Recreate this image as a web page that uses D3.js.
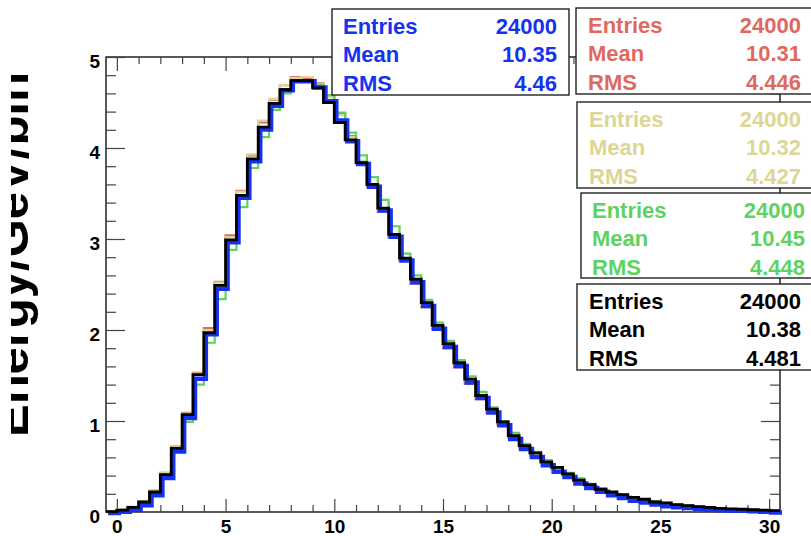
<!DOCTYPE html>
<html>
<head>
<meta charset="utf-8">
<script src="https://cdn.jsdelivr.net/npm/d3@7"></script>
<style>
  body { margin: 0; background: #fff; }
  svg { display: block; font-family: "Liberation Sans", Arial, sans-serif; font-weight: bold; }
</style>
</head>
<body>
<div id="chart"></div>
<script>
// lower edge of every bin (width 0.5)
const binLow = [-0.5, 0, 0.5, 1, 1.5, 2, 2.5, 3, 3.5, 4, 4.5, 5, 5.5, 6, 6.5, 7, 7.5, 8, 8.5, 9, 9.5,
  10, 10.5, 11, 11.5, 12, 12.5, 13, 13.5, 14, 14.5, 15, 15.5, 16, 16.5, 17, 17.5, 18, 18.5, 19, 19.5,
  20, 20.5, 21, 21.5, 22, 22.5, 23, 23.5, 24, 24.5, 25, 25.5, 26, 26.5, 27, 27.5, 28, 28.5, 29, 29.5, 30]
const binWidth = 0.5

const redVals = [0.01, 0.03, 0.05, 0.11, 0.23, 0.43, 0.72, 1.09, 1.53, 2.02, 2.53, 3.04, 3.53, 3.92, 4.28, 4.53, 4.69, 4.78, 4.77, 4.71, 4.58,
  4.38, 4.13, 3.85, 3.58, 3.30, 3.02, 2.76, 2.51, 2.25, 2.01, 1.80, 1.59, 1.41, 1.24, 1.09, 0.96, 0.82, 0.71, 0.62, 0.54,
  0.47, 0.40, 0.34, 0.29, 0.24, 0.21, 0.18, 0.15, 0.13, 0.11, 0.09, 0.08, 0.07, 0.06, 0.05, 0.04, 0.03, 0.03, 0.02, 0.02, 0.01]
const khakiVals = [0.01, 0.03, 0.06, 0.12, 0.24, 0.43, 0.71, 1.08, 1.52, 2.00, 2.52, 3.02, 3.52, 3.93, 4.30, 4.54, 4.69, 4.77, 4.78, 4.70, 4.56,
  4.36, 4.12, 3.86, 3.60, 3.32, 3.04, 2.77, 2.53, 2.27, 2.03, 1.82, 1.61, 1.43, 1.26, 1.11, 0.97, 0.83, 0.72, 0.63, 0.54,
  0.47, 0.40, 0.34, 0.29, 0.25, 0.21, 0.18, 0.15, 0.13, 0.11, 0.09, 0.08, 0.07, 0.06, 0.05, 0.04, 0.03, 0.03, 0.02, 0.02, 0.01]
const greenVals = [0.01, 0.02, 0.05, 0.11, 0.22, 0.41, 0.67, 0.99, 1.40, 1.86, 2.34, 2.88, 3.35, 3.78, 4.12, 4.42, 4.60, 4.73, 4.74, 4.69, 4.58,
  4.39, 4.17, 3.92, 3.68, 3.43, 3.14, 2.84, 2.60, 2.33, 2.08, 1.88, 1.67, 1.49, 1.32, 1.15, 1.00, 0.87, 0.75, 0.66, 0.57,
  0.49, 0.43, 0.37, 0.31, 0.26, 0.22, 0.19, 0.16, 0.14, 0.12, 0.10, 0.08, 0.07, 0.06, 0.05, 0.04, 0.035, 0.03, 0.025, 0.02, 0.015]
const blueVals = [0.005, 0.02, 0.04, 0.09, 0.20, 0.39, 0.68, 1.05, 1.48, 1.97, 2.47, 2.98, 3.47, 3.87, 4.22, 4.48, 4.65, 4.75, 4.75, 4.68, 4.53,
  4.32, 4.09, 3.84, 3.59, 3.33, 3.04, 2.78, 2.54, 2.28, 2.03, 1.83, 1.62, 1.44, 1.27, 1.11, 0.97, 0.82, 0.71, 0.62, 0.53,
  0.46, 0.40, 0.33, 0.28, 0.24, 0.20, 0.17, 0.14, 0.12, 0.10, 0.08, 0.07, 0.06, 0.05, 0.04, 0.035, 0.03, 0.03, 0.025, 0.02, 0.01]
const blackVals = [0.005, 0.02, 0.05, 0.11, 0.22, 0.41, 0.70, 1.07, 1.51, 1.97, 2.49, 2.99, 3.48, 3.88, 4.23, 4.49, 4.64, 4.74, 4.74, 4.66, 4.50,
  4.28, 4.09, 3.84, 3.60, 3.34, 3.05, 2.79, 2.56, 2.30, 2.05, 1.85, 1.64, 1.46, 1.28, 1.13, 0.99, 0.84, 0.73, 0.65, 0.55,
  0.49, 0.42, 0.35, 0.30, 0.25, 0.22, 0.19, 0.16, 0.14, 0.11, 0.10, 0.08, 0.07, 0.06, 0.05, 0.04, 0.035, 0.03, 0.025, 0.02, 0.015]

const statNames = ["Entries", "Mean", "RMS"]
const entries = [24000, 24000, 24000, 24000, 24000]
const means = ["10.35", "10.31", "10.32", "10.45", "10.38"]
const rmss = ["4.46", "4.446", "4.427", "4.448", "4.481"]

const xTicks = [0, 5, 10, 15, 20, 25, 30]
const yTicks = [0, 1, 2, 3, 4, 5]
const yTitle = "Energy/GeV/bin"

var width = 811, height = 536
var frame = {left: 106, right: 780, top: 57, bottom: 512}

const svg = d3.select("#chart").append("svg")
    .attr("width", width)
    .attr("height", height)

const x = d3.scaleLinear().domain([-0.5, 30.5]).range([frame.left, frame.right])
const y = d3.scaleLinear().domain([0, 5]).range([frame.bottom, frame.top])

// minor tick positions
var xMinor = d3.range(0, 31, 1).filter(d => d % 5 != 0)
var yMinor = d3.range(0, 5.01, 0.2).map(d => +d.toFixed(1)).filter(d => d % 1 != 0)

function tickStyle(g) {
    g.select(".domain").remove()
    g.selectAll(".tick line").attr("stroke", "#444").attr("stroke-width", 1.2)
    g.selectAll("text").attr("fill", "#000").style("font-size", "19px").style("font-weight", "bold")
        .attr("font-family", "Liberation Sans, Arial, sans-serif")
}

// frame
svg.append("rect")
    .attr("x", frame.left).attr("y", frame.top)
    .attr("width", frame.right - frame.left).attr("height", frame.bottom - frame.top)
    .attr("fill", "none").attr("stroke", "#000").attr("stroke-width", 1.3)

// bottom axis
svg.append("g").attr("transform", "translate(0," + frame.bottom + ")")
    .call(d3.axisBottom(x).tickValues(xTicks).tickSize(-13).tickPadding(7.5).tickFormat(d3.format("d")))
    .call(tickStyle)
svg.append("g").attr("transform", "translate(0," + frame.bottom + ")")
    .call(d3.axisBottom(x).tickValues(xMinor).tickSize(-7).tickFormat(""))
    .call(tickStyle)
// top axis
svg.append("g").attr("transform", "translate(0," + frame.top + ")")
    .call(d3.axisTop(x).tickValues(xTicks).tickSize(-14).tickFormat(""))
    .call(tickStyle)
svg.append("g").attr("transform", "translate(0," + frame.top + ")")
    .call(d3.axisTop(x).tickValues(xMinor).tickSize(-7).tickFormat(""))
    .call(tickStyle)
// left axis
svg.append("g").attr("transform", "translate(" + frame.left + ",0)")
    .call(d3.axisLeft(y).tickValues(yTicks).tickSize(-19).tickPadding(6).tickFormat(d3.format("d")))
    .call(tickStyle)
    .selectAll("text").attr("dy", "0.55em")
svg.append("g").attr("transform", "translate(" + frame.left + ",0)")
    .call(d3.axisLeft(y).tickValues(yMinor).tickSize(-10).tickFormat(""))
    .call(tickStyle)
// right axis
svg.append("g").attr("transform", "translate(" + frame.right + ",0)")
    .call(d3.axisRight(y).tickValues(yTicks).tickSize(-19).tickFormat(""))
    .call(tickStyle)
svg.append("g").attr("transform", "translate(" + frame.right + ",0)")
    .call(d3.axisRight(y).tickValues(yMinor).tickSize(-10).tickFormat(""))
    .call(tickStyle)

// y title: big, its top half falls outside the pad like in the original
svg.append("clipPath").attr("id", "padclip")
    .append("rect").attr("x", 11).attr("y", 0).attr("width", width - 11).attr("height", height)
svg.append("g")
    .attr("clip-path", "url(#padclip)")
    .append("text")
    .attr("transform", "translate(28,437) rotate(-90)")
    .attr("text-anchor", "start")
    .style("font-size", "49px")
    .style("font-weight", "bold")
    .text(yTitle)

// histograms
const step = d3.line()
    .x(d => x(d[0]))
    .y(d => y(d[1]))
    .curve(d3.curveStepAfter)

function histPoints(vals) {
    var pts = binLow.map((b, i) => [b, vals[i]])
    pts.push([binLow[binLow.length - 1] + binWidth, vals[vals.length - 1]])
    return pts
}

var hists = [
    {vals: redVals, color: "#e0695f", w: 2.2, dx: 0, dy: 0},
    {vals: khakiVals, color: "#dcd696", w: 2.2, dx: 0, dy: 0},
    {vals: greenVals, color: "#5fd25f", w: 2.2, dx: 0, dy: 0},
    {vals: blueVals, color: "#1432f0", w: 4.5, dx: 2, dy: 1.5},
    {vals: blackVals, color: "#000", w: 2.8, dx: 0, dy: 0}
]

hists.forEach(h => {
    svg.append("path")
        .attr("d", step(histPoints(h.vals)))
        .attr("transform", "translate(" + h.dx + "," + h.dy + ")")
        .attr("fill", "none")
        .attr("stroke", h.color)
        .attr("stroke-width", h.w)
        .attr("stroke-linejoin", "miter")
})

// stat boxes
var boxes = [
    {x: 332, y: 9, w: 237, h: 86, tl: 343, tr: 557, color: "#1432f0"},
    {x: 576, y: 8, w: 240, h: 86, tl: 588, tr: 801, color: "#e0695f"},
    {x: 577, y: 102, w: 240, h: 86, tl: 589, tr: 801, color: "#dcd696"},
    {x: 581, y: 193, w: 240, h: 85, tl: 592, tr: 805, color: "#5fd25f"},
    {x: 577, y: 284, w: 240, h: 86, tl: 589, tr: 801, color: "#000"}
]

boxes.forEach((b, i) => {
    var g = svg.append("g")
    g.append("rect")
        .attr("x", b.x).attr("y", b.y).attr("width", b.w).attr("height", b.h)
        .attr("fill", "#fff").attr("stroke", "#222").attr("stroke-width", 1.4)
    var vals = [entries[i], means[i], rmss[i]]
    statNames.forEach((n, j) => {
        var base = b.y + 24.5 + j * 28.5
        g.append("text")
            .attr("x", b.tl).attr("y", base)
            .attr("fill", b.color)
            .style("font-size", "22px")
            .text(n)
        g.append("text")
            .attr("x", b.tr).attr("y", base)
            .attr("text-anchor", "end")
            .attr("fill", b.color)
            .style("font-size", "22px")
            .text(vals[j])
    })
})
</script>
</body>
</html>
